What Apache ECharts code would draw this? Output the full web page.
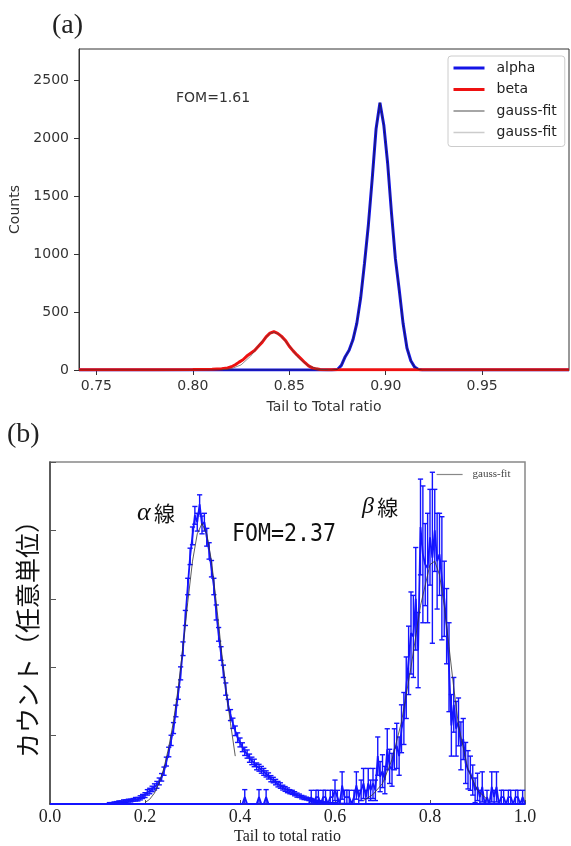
<!DOCTYPE html>
<html><head><meta charset="utf-8">
<script src="https://cdn.jsdelivr.net/npm/echarts@6/dist/echarts.min.js"></script>
<style>html,body{margin:0;padding:0;background:#fff}#c{width:571px;height:846px}</style>
</head><body><div id="c"></div>
<script>
// ---------- (a) top panel data ----------
const topXTicks = [0.75, 0.80, 0.85, 0.90, 0.95];
const topYTicks = [0, 500, 1000, 1500, 2000, 2500];
const topAlphaX = [0.741, 0.872, 0.875, 0.877, 0.879, 0.881, 0.883, 0.885, 0.887, 0.889, 0.891, 0.893, 0.895, 0.897, 0.899, 0.901, 0.903, 0.905, 0.907, 0.909, 0.911, 0.913, 0.915, 0.917, 0.919, 0.995];
const topAlphaCounts = [0, 0, 5, 40, 115, 170, 260, 402, 620, 920, 1250, 1650, 2080, 2304, 2110, 1780, 1350, 960, 690, 400, 190, 80, 25, 5, 0, 0];
const topBetaX = [0.741, 0.760, 0.780, 0.800, 0.810, 0.815, 0.818, 0.820, 0.822, 0.824, 0.826, 0.828, 0.830, 0.832, 0.834, 0.836, 0.838, 0.840, 0.842, 0.844, 0.846, 0.848, 0.850, 0.852, 0.854, 0.856, 0.858, 0.860, 0.862, 0.864, 0.866, 0.870, 0.995];
const topBetaCounts = [2, 2, 3, 4, 6, 10, 18, 28, 45, 68, 88, 120, 144, 168, 205, 240, 285, 318, 330, 316, 290, 255, 205, 165, 130, 98, 65, 36, 18, 10, 4, 2, 2];
const topBetaFitX = [0.815, 0.820, 0.825, 0.830, 0.835, 0.840, 0.842, 0.845, 0.850, 0.855, 0.860, 0.865, 0.870];
const topBetaFit = [2, 11, 44, 120, 231, 316, 325, 306, 209, 101, 35, 8, 1];

// ---------- (b) bottom panel data ----------
const botXTicks = [0, 0.2, 0.4, 0.6, 0.8, 1.0];
const alphaBX = [0.000,0.120,0.125,0.130,0.135,0.140,0.145,0.150,0.155,0.160,0.165,0.170,0.175,0.180,0.185,0.190,0.195,0.200,0.205,0.210,0.215,0.220,0.225,0.230,0.235,0.240,0.245,0.250,0.255,0.260,0.265,0.270,0.275,0.280,0.285,0.290,0.295,0.300,0.305,0.310,0.315,0.320,0.325,0.330,0.335,0.340,0.345,0.350,0.355,0.360,0.365,0.370,0.375,0.380,0.385,0.390,0.395,0.400,0.405,0.410,0.415,0.420,0.425,0.430,0.435,0.440,0.445,0.450,0.455,0.460,0.465,0.470,0.475,0.480,0.485,0.490,0.495,0.500,0.505,0.510,0.515,0.520,0.525,0.530,0.535,0.540,0.545,0.550,0.555,0.560,0.565,0.570,0.575,0.580,0.590,0.600,0.650,1.000];
const alphaBY = [0,0,0.01,0.01,0.02,0.02,0.03,0.03,0.04,0.04,0.05,0.05,0.06,0.07,0.07,0.09,0.11,0.13,0.17,0.19,0.22,0.25,0.28,0.33,0.39,0.48,0.62,0.76,0.93,1.11,1.36,1.62,1.91,2.27,2.72,3.18,3.62,3.92,4.22,4.12,4.38,4.08,4.12,3.90,3.70,3.44,3.18,2.80,2.48,2.20,1.94,1.68,1.45,1.30,1.18,1.07,0.97,0.90,0.83,0.77,0.73,0.67,0.63,0.60,0.55,0.53,0.50,0.47,0.44,0.41,0.37,0.35,0.32,0.29,0.27,0.24,0.22,0.20,0.18,0.17,0.15,0.13,0.12,0.10,0.09,0.08,0.07,0.06,0.05,0.04,0.03,0.03,0.02,0.02,0.01,0.01,0,0];
const alphaBErr = [0,0,0.01,0.01,0.01,0.015,0.015,0.015,0.02,0.02,0.02,0.02,0.02,0.025,0.025,0.03,0.03,0.035,0.04,0.04,0.04,0.045,0.05,0.05,0.055,0.06,0.065,0.07,0.075,0.08,0.085,0.09,0.095,0.10,0.11,0.12,0.12,0.13,0.13,0.13,0.14,0.13,0.13,0.13,0.12,0.12,0.12,0.11,0.10,0.10,0.09,0.09,0.08,0.08,0.075,0.07,0.07,0.065,0.065,0.06,0.06,0.06,0.055,0.055,0.05,0.05,0.05,0.05,0.045,0.045,0.045,0.04,0.04,0.04,0.04,0.035,0.035,0.035,0.03,0.03,0.03,0.03,0.025,0.025,0.025,0.02,0.02,0.02,0.02,0.015,0.015,0.015,0.01,0.01,0.01,0.01,0,0];
const betaBX = [0.000,0.405,0.410,0.415,0.435,0.440,0.445,0.450,0.455,0.460,0.545,0.550,0.555,0.560,0.565,0.570,0.575,0.580,0.585,0.590,0.595,0.600,0.605,0.610,0.615,0.620,0.625,0.630,0.635,0.640,0.645,0.650,0.655,0.660,0.665,0.670,0.675,0.680,0.685,0.690,0.695,0.700,0.705,0.710,0.715,0.720,0.725,0.730,0.735,0.740,0.745,0.750,0.755,0.760,0.765,0.770,0.775,0.780,0.785,0.790,0.795,0.800,0.805,0.810,0.815,0.820,0.825,0.830,0.835,0.840,0.845,0.850,0.855,0.860,0.865,0.870,0.875,0.880,0.885,0.890,0.895,0.900,0.905,0.910,0.915,0.920,0.925,0.930,0.935,0.940,0.945,0.950,0.955,0.960,0.965,0.970,0.975,0.980,0.985,0.990,0.995,1.000];
const betaBY = [0,0,0.10,0,0,0.10,0,0,0.10,0,0,0.10,0,0.10,0.10,0,0.10,0.10,0,0.10,0.10,0.20,0.10,0,0.27,0.10,0.10,0.10,0,0.10,0.27,0.10,0.20,0.30,0.10,0.30,0.20,0.30,0.20,0.70,0.40,0.48,0.35,0.80,0.55,0.50,0.80,0.85,0.70,1.10,1.25,1.70,2.10,2.50,2.45,3.00,2.25,4.05,3.65,3.50,3.45,3.90,3.60,4.00,3.55,3.65,3.30,3.00,2.60,2.00,1.15,1.45,1.10,1.20,0.85,0.95,0.60,0.50,0.45,0.35,0.20,0.25,0.10,0.25,0,0.10,0,0.25,0.10,0.25,0,0.10,0.10,0,0.10,0.10,0,0.10,0.10,0,0.10,0];
const betaBErr = [0,0,0.11,0,0,0.11,0,0,0.11,0,0,0.10,0,0.10,0.10,0,0.10,0.10,0,0.10,0.10,0.15,0.10,0,0.20,0.10,0.10,0.10,0,0.10,0.20,0.10,0.15,0.22,0.10,0.22,0.15,0.22,0.15,0.28,0.22,0.24,0.20,0.30,0.25,0.24,0.30,0.33,0.28,0.35,0.38,0.45,0.50,0.60,0.60,0.75,0.55,0.70,1.00,0.60,0.80,0.70,1.25,0.60,0.70,0.60,0.90,0.55,0.55,0.65,0.45,0.40,0.40,0.35,0.35,0.30,0.30,0.28,0.25,0.22,0.18,0.20,0.10,0.22,0,0.10,0,0.22,0.10,0.22,0,0.10,0.10,0,0.10,0.10,0,0.10,0.10,0,0.10,0];
const alphaFitX = [0.20, 0.21, 0.22, 0.23, 0.24, 0.25, 0.26, 0.27, 0.28, 0.29, 0.30, 0.31, 0.32, 0.33, 0.34, 0.35, 0.36, 0.37, 0.38, 0.39];
const alphaFitY = [0.02, 0.07, 0.16, 0.31, 0.53, 0.83, 1.21, 1.70, 2.30, 2.95, 3.55, 3.95, 4.10, 3.95, 3.55, 2.95, 2.30, 1.70, 1.18, 0.70];
const betaFitX = [0.66, 0.68, 0.70, 0.72, 0.74, 0.76, 0.78, 0.80, 0.81, 0.82, 0.83, 0.84, 0.85, 0.86, 0.88, 0.90, 0.92];
const betaFitY = [0.05, 0.14, 0.30, 0.65, 1.20, 2.00, 2.90, 3.50, 3.55, 3.35, 2.90, 2.30, 1.70, 1.15, 0.50, 0.20, 0.07];

const zip = (xs, ys) => xs.map((x, i) => [x, ys[i]]);
const zip3 = (xs, ys, es) => xs.map((x, i) => [x, ys[i], es[i]]);

function errBar(params, api) {
  const x = api.value(0), y = api.value(1), e = api.value(2);
  if (!(e > 0)) return null;
  const lo = Math.max(0, y - e);
  const p1 = api.coord([x, y + e]), p0 = api.coord([x, lo]);
  const cap = 2.6;
  const st = { stroke: '#1414ff', lineWidth: 1.4 };
  return { type: 'group', children: [
    { type: 'line', shape: { x1: p1[0], y1: p1[1], x2: p0[0], y2: p0[1] }, style: st },
    { type: 'line', shape: { x1: p1[0] - cap, y1: p1[1], x2: p1[0] + cap, y2: p1[1] }, style: st },
    { type: 'line', shape: { x1: p0[0] - cap, y1: p0[1], x2: p0[0] + cap, y2: p0[1] }, style: st }
  ]};
}

const sans = 'DejaVu Sans';
const serif = 'Liberation Serif';
const noSym = { color: 'rgba(0,0,0,0)', borderWidth: 0, opacity: 0 };
const chart = echarts.init(document.getElementById('c'), null, { renderer: 'canvas' });
chart.setOption({
  animation: false,
  backgroundColor: '#fff',
  grid: [
    { left: 79, top: 49, right: 2, bottom: 476, show: true, borderColor: '#333', borderWidth: 1, containLabel: false },
    { left: 50, top: 462, right: 46, bottom: 40, show: true, borderColor: '#888', borderWidth: 1.5, containLabel: false }
  ],
  xAxis: [
    { gridIndex: 0, type: 'value', min: 0.741, max: 0.995,
      axisLine: { show: true, onZero: false, lineStyle: { color: '#333', width: 1 } },
      axisTick: { show: true, inside: false, length: 5, lineStyle: { color: '#333' }, customValues: topXTicks },
      axisLabel: { customValues: topXTicks, formatter: v => v.toFixed(2), fontFamily: sans, fontSize: 14, color: '#333', margin: 9 },
      splitLine: { show: false },
      name: 'Tail to Total ratio', nameLocation: 'middle', nameGap: 30,
      nameTextStyle: { fontFamily: sans, fontSize: 14, color: '#333' } },
    { gridIndex: 1, type: 'value', min: 0, max: 1, interval: 0.2,
      axisLine: { show: true, onZero: false, lineStyle: { color: '#333', width: 1.5 } },
      axisTick: { show: true, inside: true, length: 4, lineStyle: { color: '#555' }, customValues: botXTicks },
      axisLabel: { customValues: botXTicks, formatter: v => v.toFixed(1), fontFamily: serif, fontSize: 18, color: '#222', margin: 4 },
      splitLine: { show: false },
      name: 'Tail to total ratio', nameLocation: 'middle', nameGap: 25,
      nameTextStyle: { fontFamily: serif, fontSize: 16, color: '#222' } }
  ],
  yAxis: [
    { gridIndex: 0, type: 'value', min: 0, max: 2767,
      axisLine: { show: true, onZero: false, lineStyle: { color: '#333', width: 1 } },
      axisTick: { show: true, inside: false, length: 5, lineStyle: { color: '#333' }, customValues: topYTicks },
      axisLabel: { customValues: topYTicks, formatter: v => String(Math.round(v)), fontFamily: sans, fontSize: 14, color: '#333', margin: 10 },
      splitLine: { show: false },
      name: 'Counts', nameLocation: 'middle', nameGap: 54, nameRotate: 90,
      nameTextStyle: { fontFamily: sans, fontSize: 14, color: '#333' } },
    { gridIndex: 1, type: 'value', min: 0, max: 5, interval: 1,
      axisLine: { show: true, onZero: false, lineStyle: { color: '#444', width: 1.5 } },
      axisTick: { show: true, inside: true, length: 6, lineStyle: { color: '#555' } },
      axisLabel: { show: false },
      splitLine: { show: false },
      name: 'カウント（任意単位）', nameLocation: 'middle', nameGap: 10, nameRotate: 90,
      nameTextStyle: { fontFamily: 'Noto Sans CJK JP', fontSize: 25, color: '#111' } }
  ],
  legend: [
    { left: 448, top: 56, orient: 'vertical', itemWidth: 31, itemHeight: 14, itemGap: 7.5,
      padding: [5, 8, 7, 4], borderColor: '#ccc', borderWidth: 1, borderRadius: 3, backgroundColor: '#fff',
      textStyle: { fontFamily: sans, fontSize: 14, color: '#222', padding: [0, 0, 0, 7] },
      formatter: n => n.trim(),
      data: [
        { name: 'alpha', lineStyle: { color: '#1414e6', width: 3 }, itemStyle: noSym },
        { name: 'beta', lineStyle: { color: '#ee1111', width: 3 }, itemStyle: noSym },
        { name: 'gauss-fit', lineStyle: { color: '#555', width: 1.5 }, itemStyle: noSym },
        { name: 'gauss-fit ', lineStyle: { color: '#aaa', width: 1.5 }, itemStyle: noSym }
      ] },
    { left: 436, top: 469, orient: 'vertical', itemWidth: 26, itemHeight: 12, padding: 0,
      textStyle: { fontFamily: serif, fontSize: 11, color: '#444', padding: [0, 0, 0, 5] },
      formatter: n => n.trim(),
      data: [{ name: 'gauss-fit  ', lineStyle: { color: '#888', width: 1.2 }, itemStyle: noSym }] }
  ],
  series: [
    { name: 'alpha', type: 'line', xAxisIndex: 0, yAxisIndex: 0, data: zip(topAlphaX, topAlphaCounts),
      symbol: 'none', lineStyle: { color: '#1414e6', width: 3 }, itemStyle: { color: '#1414e6' }, z: 2 },
    { name: 'beta', type: 'line', xAxisIndex: 0, yAxisIndex: 0, data: zip(topBetaX, topBetaCounts),
      symbol: 'none', lineStyle: { color: '#ee1111', width: 3 }, itemStyle: { color: '#ee1111' }, z: 3 },
    { name: 'gauss-fit', type: 'line', xAxisIndex: 0, yAxisIndex: 0, data: zip(topAlphaX, topAlphaCounts),
      symbol: 'none', lineStyle: { color: '#222', width: 1, opacity: 0.7 }, itemStyle: { color: '#555' }, z: 4 },
    { name: 'gauss-fit ', type: 'line', xAxisIndex: 0, yAxisIndex: 0, data: zip(topBetaFitX, topBetaFit),
      symbol: 'none', lineStyle: { color: '#444', width: 1, opacity: 0.6 }, itemStyle: { color: '#aaa' }, z: 4 },

    { name: 'α', type: 'line', xAxisIndex: 1, yAxisIndex: 1, data: zip(alphaBX, alphaBY),
      symbol: 'none', lineStyle: { color: '#1414ff', width: 1.8 }, z: 3 },
    { name: 'α err', type: 'custom', xAxisIndex: 1, yAxisIndex: 1, data: zip3(alphaBX, alphaBY, alphaBErr),
      renderItem: errBar, encode: { x: 0, y: 1 }, z: 3 },
    { name: 'β', type: 'line', xAxisIndex: 1, yAxisIndex: 1, data: zip(betaBX, betaBY),
      symbol: 'none', lineStyle: { color: '#1414ff', width: 1.8 }, z: 3 },
    { name: 'β err', type: 'custom', xAxisIndex: 1, yAxisIndex: 1, data: zip3(betaBX, betaBY, betaBErr),
      renderItem: errBar, encode: { x: 0, y: 1 }, z: 3 },
    { name: 'gauss-fit  ', type: 'line', xAxisIndex: 1, yAxisIndex: 1, data: zip(alphaFitX, alphaFitY),
      symbol: 'none', lineStyle: { color: '#333', width: 0.8 }, itemStyle: { color: '#888' }, z: 4 },
    { name: 'gauss-fit  ', type: 'line', xAxisIndex: 1, yAxisIndex: 1, data: zip(betaFitX, betaFitY),
      symbol: 'none', lineStyle: { color: '#333', width: 0.8 }, itemStyle: { color: '#888' }, z: 4 }
  ],
  graphic: [
    { type: 'text', x: 52, y: 26, style: { text: '(a)', font: '28px "Liberation Serif"', fill: '#222', verticalAlign: 'middle' } },
    { type: 'text', x: 7, y: 435, style: { text: '(b)', font: '28px "Liberation Serif"', fill: '#222', verticalAlign: 'middle' } },
    { type: 'text', x: 176, y: 98, style: { text: 'FOM=1.61', font: '14px "DejaVu Sans"', fill: '#333', verticalAlign: 'middle' } },
    { type: 'text', x: 137, y: 513, style: { text: '{a|α} {k|線}', verticalAlign: 'middle', fill: '#111',
        rich: { a: { fontFamily: serif, fontStyle: 'italic', fontSize: 26, fill: '#111' }, k: { fontFamily: 'Noto Sans CJK JP', fontSize: 21, fill: '#111' } } } },
    { type: 'text', x: 362, y: 507, style: { text: '{a|β} {k|線}', verticalAlign: 'middle', fill: '#111',
        rich: { a: { fontFamily: serif, fontStyle: 'italic', fontSize: 24, fill: '#111' }, k: { fontFamily: 'Noto Sans CJK JP', fontSize: 21, fill: '#111' } } } },
    { type: 'text', x: 232, y: 535, scaleX: 0.9, style: { text: 'FOM=2.37', font: '24px "DejaVu Sans Mono"', fill: '#111', verticalAlign: 'middle' } }
  ]
});
</script></body></html>
